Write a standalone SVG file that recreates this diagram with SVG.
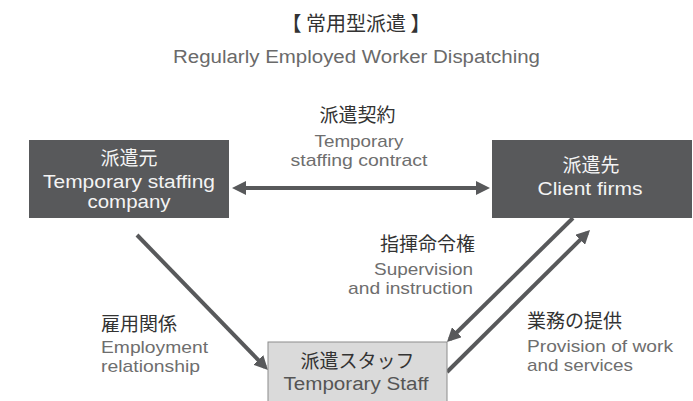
<svg xmlns="http://www.w3.org/2000/svg" width="693" height="401" viewBox="0 0 693 401">
<style>
.jp{font-family:"Noto Sans CJK JP","Noto Sans CJK SC",sans-serif;font-size:19px;fill:#333333}
.en{font-family:"Liberation Sans",Arial,sans-serif;font-size:17px;fill:#6e6e6e}
.ttl{font-family:"Liberation Sans",Arial,sans-serif;font-size:18px;fill:#6a6a6a}
.wjp{font-family:"Noto Sans CJK JP","Noto Sans CJK SC",sans-serif;font-size:19px;fill:#f4f4f4}
.wen{font-family:"Liberation Sans",Arial,sans-serif;font-size:18px;fill:#f4f4f4}
.ben{font-family:"Liberation Sans",Arial,sans-serif;font-size:18px;fill:#555555}
.dark{fill:#58595b}
.light{fill:#dadada;stroke:#8c8c8c;stroke-width:1}
.conn{stroke:#58595b;stroke-width:4;fill:none}
.mid{text-anchor:middle}
.end{text-anchor:end}
</style>
<defs>
<marker id="ah" markerUnits="userSpaceOnUse" markerWidth="14" markerHeight="14" refX="10" refY="7" orient="auto-start-reverse" viewBox="0 0 14 14">
<path d="M0,0 L14,7 L0,14 z" fill="#58595b"/>
</marker>
</defs>
<rect width="693" height="401" fill="#ffffff"/>
<g id="title">
<text class="jp mid" x="356" y="31" style="font-size:20px">【 常用型派遣 】</text>
<text class="ttl mid" x="356.5" y="63" textLength="367" lengthAdjust="spacingAndGlyphs">Regularly Employed Worker Dispatching</text>
</g>
<g id="connectors">
<line class="conn" x1="236" y1="188" x2="486" y2="188" marker-start="url(#ah)" marker-end="url(#ah)"/>
<line class="conn" x1="137" y1="235" x2="265.2" y2="367.1" marker-end="url(#ah)"/>
<line class="conn" x1="573" y1="218" x2="449.8" y2="339.2" marker-end="url(#ah)"/>
<line class="conn" x1="447" y1="372" x2="587.2" y2="232.8" marker-end="url(#ah)"/>
</g>
<g id="node-staffing-company">
<rect class="dark" x="29" y="140" width="200" height="78"/>
<text class="wjp mid" x="129" y="165">派遣元</text>
<text class="wen mid" x="129" y="188" textLength="172" lengthAdjust="spacingAndGlyphs">Temporary staffing</text>
<text class="wen mid" x="129" y="208" textLength="83" lengthAdjust="spacingAndGlyphs">company</text>
</g>
<g id="node-client-firms">
<rect class="dark" x="492" y="140" width="200" height="78"/>
<text class="wjp mid" x="591" y="172">派遣先</text>
<text class="wen mid" x="590" y="195" textLength="105" lengthAdjust="spacingAndGlyphs">Client firms</text>
</g>
<g id="node-temporary-staff">
<rect class="light" x="268" y="342" width="179" height="70"/>
<text class="jp mid" x="357.5" y="368">派遣スタッフ</text>
<text class="ben mid" x="356" y="390" textLength="145" lengthAdjust="spacingAndGlyphs">Temporary Staff</text>
</g>
<g id="label-contract">
<text class="jp mid" x="357.5" y="122">派遣契約</text>
<text class="en mid" x="359" y="147" textLength="89" lengthAdjust="spacingAndGlyphs">Temporary</text>
<text class="en mid" x="359" y="166" textLength="137" lengthAdjust="spacingAndGlyphs">staffing contract</text>
</g>
<g id="label-supervision">
<text class="jp end" x="475" y="251">指揮命令権</text>
<text class="en end" x="473" y="275" textLength="99" lengthAdjust="spacingAndGlyphs">Supervision</text>
<text class="en end" x="473" y="294" textLength="125" lengthAdjust="spacingAndGlyphs">and instruction</text>
</g>
<g id="label-provision">
<text class="jp" x="527" y="328">業務の提供</text>
<text class="en" x="527" y="352" textLength="146" lengthAdjust="spacingAndGlyphs">Provision of work</text>
<text class="en" x="527" y="371" textLength="106" lengthAdjust="spacingAndGlyphs">and services</text>
</g>
<g id="label-employment">
<text class="jp" x="101" y="331">雇用関係</text>
<text class="en" x="101" y="353" textLength="107" lengthAdjust="spacingAndGlyphs">Employment</text>
<text class="en" x="101" y="372" textLength="99" lengthAdjust="spacingAndGlyphs">relationship</text>
</g>
</svg>
